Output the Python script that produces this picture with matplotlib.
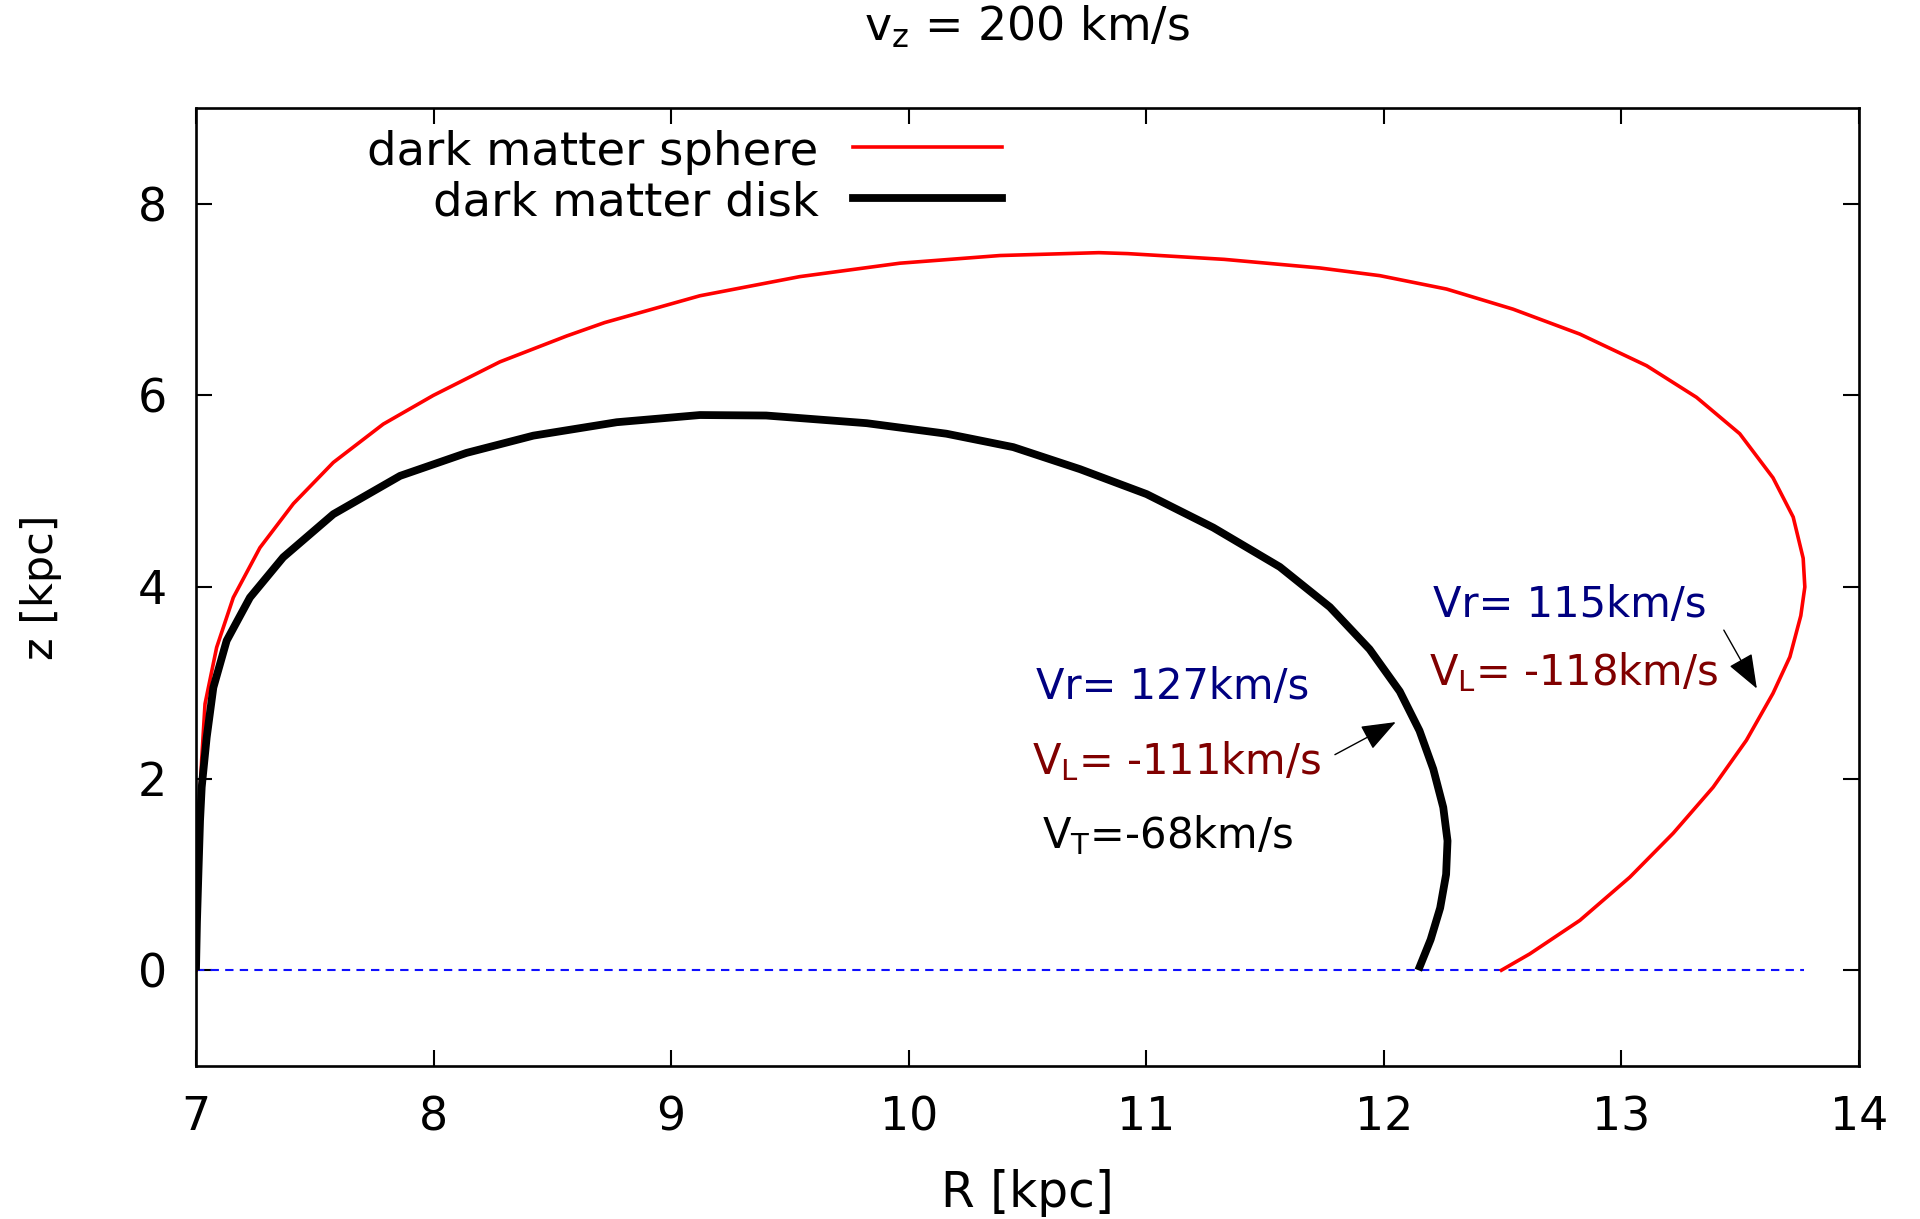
import matplotlib
matplotlib.use("Agg")
import matplotlib.pyplot as plt
from matplotlib.lines import Line2D

plt.rcParams['font.family'] = ['DejaVu Sans']
plt.rcParams['mathtext.default'] = 'regular'

# ---------------- data ----------------
disk_R = [7.000, 7.004, 7.010, 7.017, 7.024, 7.045, 7.073, 7.129, 7.227, 7.367,
          7.578, 7.859, 8.139, 8.420, 8.771, 9.121, 9.400, 9.823, 10.159, 10.440,
          10.721, 11.001, 11.282, 11.562, 11.773, 11.940, 12.067, 12.150, 12.208,
          12.250, 12.268, 12.262, 12.237, 12.197, 12.145]
disk_z = [0.00, 0.50, 1.00, 1.56, 1.91, 2.43, 2.95, 3.44, 3.89, 4.31,
          4.76, 5.16, 5.40, 5.58, 5.72, 5.795, 5.79, 5.71, 5.60, 5.46,
          5.23, 4.97, 4.62, 4.21, 3.79, 3.35, 2.91, 2.50, 2.10,
          1.70, 1.35, 1.00, 0.65, 0.32, 0.00]

sphere_R = [7.000, 7.004, 7.012, 7.024, 7.038, 7.087, 7.157, 7.269, 7.410, 7.578,
            7.788, 7.999, 8.279, 8.560, 8.720, 9.121, 9.542, 9.963, 10.384, 10.800,
            10.922, 11.328, 11.731, 11.983, 12.264, 12.544, 12.825, 13.106, 13.316,
            13.498, 13.638, 13.723, 13.765, 13.772, 13.755, 13.709, 13.638, 13.526,
            13.386, 13.218, 13.035, 12.825, 12.614, 12.495]
sphere_z = [0.00, 0.80, 1.60, 2.20, 2.78, 3.37, 3.89, 4.41, 4.87, 5.30,
            5.70, 6.00, 6.35, 6.62, 6.76, 7.04, 7.24, 7.38, 7.46, 7.49,
            7.48, 7.42, 7.33, 7.25, 7.11, 6.90, 6.64, 6.31, 5.98,
            5.60, 5.14, 4.73, 4.30, 4.00, 3.70, 3.27, 2.89, 2.40,
            1.91, 1.43, 0.97, 0.52, 0.17, 0.00]

midplane_R = [7.0, 13.77]
midplane_z = [0.0, 0.0]

series_labels = ["dark matter sphere", "dark matter disk"]
x_ticks = [7, 8, 9, 10, 11, 12, 13, 14]
y_ticks = [0, 2, 4, 6, 8]

title_text = "v$_z$ = 200 km/s"
disk_notes = ["Vr= 127km/s", "V$_L$= -111km/s", "V$_T$=-68km/s"]
sphere_notes = ["Vr= 115km/s", "V$_L$= -118km/s"]

# ---------------- figure ----------------
W, H = 1920, 1219
fig = plt.figure(figsize=(W / 100, H / 100), dpi=100)
ax = fig.add_axes([196 / W, 1 - 1066 / H, (1859 - 196) / W, (1066 - 108) / H])

ax.plot(midplane_R, midplane_z, color='#1010ff', lw=1.5, dashes=(4, 3))
ax.plot(sphere_R, sphere_z, color='#ff0000', lw=2.6, solid_joinstyle='round')
ax.plot(disk_R, disk_z, color='black', lw=5.6, solid_joinstyle='round',
        solid_capstyle='butt')

ax.set_xlim(7, 14)
ax.set_ylim(-1, 9)
ax.set_xticks(x_ticks)
ax.set_yticks(y_ticks)
ax.tick_params(direction='in', length=11.5, width=1.5, labelsize=33,
               top=True, right=True, pad=21)
for s in ax.spines.values():
    s.set_linewidth(1.9)

ax.set_xlabel("R [kpc]", fontsize=35, va='center')
ax.xaxis.set_label_coords(0.5, -(1193 - 1066) / 958)
ax.set_ylabel("z [kpc]", fontsize=31, va='center')
ax.yaxis.set_label_coords(-(196 - 41) / 1663, 0.5)

fig.text(1027 / W, 1 - 27 / H, title_text, fontsize=33, ha='center', va='center')

# legend (gnuplot style: text right-aligned, sample line to its right)
tr = ax.transAxes
def ax_x(px):
    return (px - 196) / 1663
def ax_y(py):
    return (1066 - py) / 958
ax.add_line(Line2D([ax_x(853), ax_x(1002)], [ax_y(147), ax_y(147)], transform=tr,
                   color='#ff0000', lw=2.6))
ax.add_line(Line2D([ax_x(853), ax_x(1002)], [ax_y(198), ax_y(198)], transform=tr,
                   color='black', lw=5.6))
ax.text(ax_x(818), ax_y(165), series_labels[0], transform=tr, fontsize=33.5,
        ha='right', va='baseline')
ax.text(ax_x(819), ax_y(215), series_labels[1], transform=tr, fontsize=33.5,
        ha='right', va='baseline')

# annotations
navy = '#000080'
dred = '#800000'
ax.text(10.534, 2.833, disk_notes[0], color=navy, fontsize=30, va='baseline')
ax.text(10.517, 2.044, disk_notes[1], color=dred, fontsize=30, va='baseline')
ax.text(10.562, 1.275, disk_notes[2], color='black', fontsize=30, va='baseline')
ax.text(12.205, 3.684, sphere_notes[0], color=navy, fontsize=30, va='baseline')
ax.text(12.188, 2.972, sphere_notes[1], color=dred, fontsize=30, va='baseline')

arrow_style = dict(arrowstyle='-|>,head_length=1.08,head_width=0.41',
                   mutation_scale=20, lw=1.0, color='black', shrinkA=0, shrinkB=0)
ax.annotate('', xy=(12.05, 2.59), xytext=(11.794, 2.25), arrowprops=arrow_style)
ax.annotate('', xy=(13.57, 2.94), xytext=(13.431, 3.55), arrowprops=arrow_style)

fig.savefig("out.png", dpi=100)
